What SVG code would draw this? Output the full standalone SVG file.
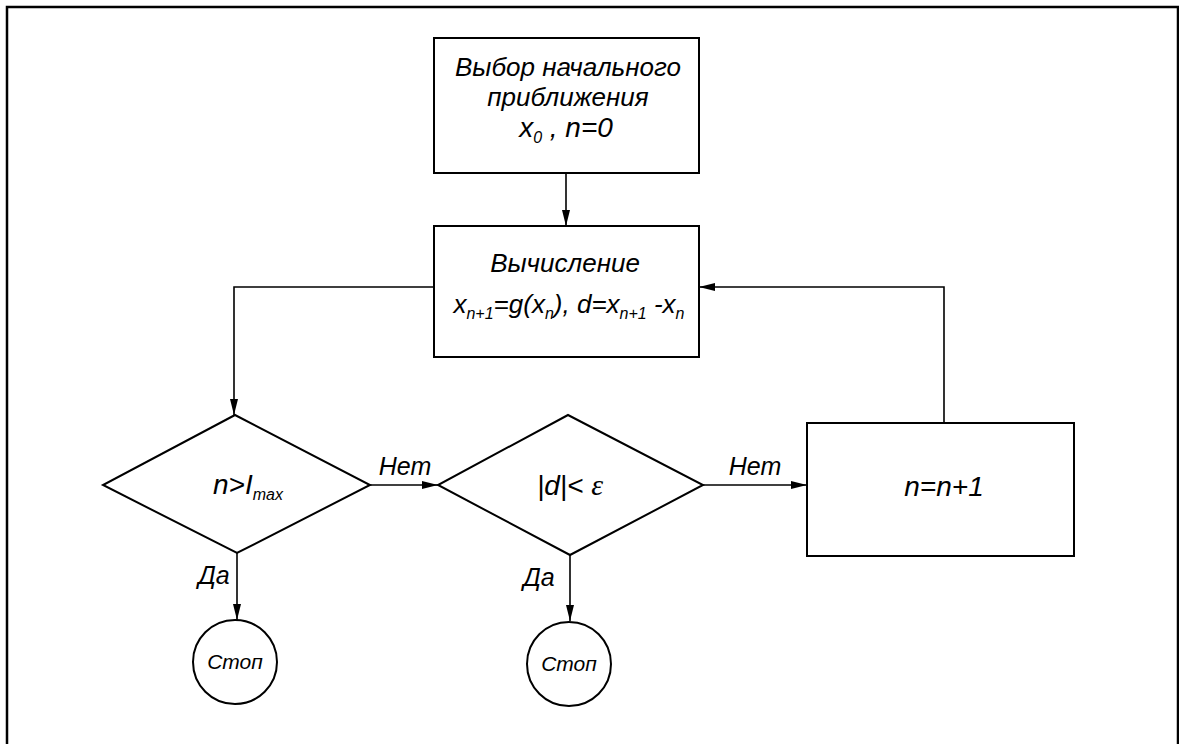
<svg xmlns="http://www.w3.org/2000/svg" width="1179" height="744" viewBox="0 0 1179 744">
<style>
.s{fill:#fff;stroke:#000;stroke-width:2}
.c{fill:none;stroke:#000;stroke-width:1.6}
text{font-family:"Liberation Sans",Arial,sans-serif;font-style:italic;fill:#000}
.t{font-size:26px}
.b{font-size:28px}
.l{font-size:25px}
.sub{font-size:16px}
.st{font-size:21px}
</style>
<defs>
<marker id="a" viewBox="0 0 16 8" refX="16" refY="4" markerWidth="16" markerHeight="8" markerUnits="userSpaceOnUse" orient="auto">
<path d="M0,0 L16,4 L0,8 Z" fill="#000"/>
</marker>
</defs>
<rect x="7" y="7" width="1171" height="760" fill="#fff" stroke="#000" stroke-width="2.5"/>
<g id="connectors">
<line class="c" x1="566" y1="173" x2="566" y2="226" marker-end="url(#a)"/>
<polyline class="c" points="434,287 234,287 234,415" marker-end="url(#a)"/>
<line class="c" x1="370" y1="485" x2="438" y2="485" marker-end="url(#a)"/>
<line class="c" x1="703" y1="485" x2="807" y2="485" marker-end="url(#a)"/>
<polyline class="c" points="944,423 944,287 699,287" marker-end="url(#a)"/>
<line class="c" x1="237" y1="553" x2="237" y2="620" marker-end="url(#a)"/>
<line class="c" x1="570" y1="555" x2="570" y2="621" marker-end="url(#a)"/>
<text class="l" x="405" y="475" text-anchor="middle">Нет</text>
<text class="l" x="755" y="475" text-anchor="middle">Нет</text>
<text class="l" x="214" y="584" text-anchor="middle">Да</text>
<text class="l" x="539" y="586" text-anchor="middle">Да</text>
</g>
<g id="start">
<rect class="s" x="434" y="38" width="265" height="135"/>
<text class="t" x="568" y="76" text-anchor="middle">Выбор начального</text>
<text class="t" x="568" y="106" text-anchor="middle">приближения</text>
<text x="566" y="137" font-size="28" text-anchor="middle">x<tspan class="sub" dy="6">0</tspan><tspan dy="-6"> ,  n=0</tspan></text>
</g>
<g id="compute">
<rect class="s" x="434" y="226" width="265" height="131"/>
<text class="t" x="565" y="272" text-anchor="middle">Вычисление</text>
<text class="t" x="569" y="313" text-anchor="middle">x<tspan class="sub" dy="6">n+1</tspan><tspan dy="-6">=g(x</tspan><tspan class="sub" dy="6">n</tspan><tspan dy="-6">),  d=x</tspan><tspan class="sub" dy="6">n+1</tspan><tspan dy="-6"> -x</tspan><tspan class="sub" dy="6">n</tspan></text>
</g>
<g id="check-n">
<polygon class="s" points="235,415 370,485 237,553 103,485"/>
<text class="b" x="248" y="494" text-anchor="middle">n&gt;I<tspan class="sub" dy="6">max</tspan></text>
</g>
<g id="check-d">
<polygon class="s" points="568,415 703,485 570,555 438,485"/>
<text class="b" x="570" y="495" text-anchor="middle">|d|&lt; <tspan font-family="Liberation Serif,serif" font-size="30">ε</tspan></text>
</g>
<g id="increment">
<rect class="s" x="807" y="423" width="267" height="133"/>
<text class="b" x="944" y="496" text-anchor="middle">n=n+1</text>
</g>
<g id="stop1">
<circle class="s" cx="235" cy="662" r="42"/>
<text class="st" x="235" y="669" text-anchor="middle">Стоп</text>
</g>
<g id="stop2">
<circle class="s" cx="569" cy="664" r="42"/>
<text class="st" x="569" y="671" text-anchor="middle">Стоп</text>
</g>
</svg>
